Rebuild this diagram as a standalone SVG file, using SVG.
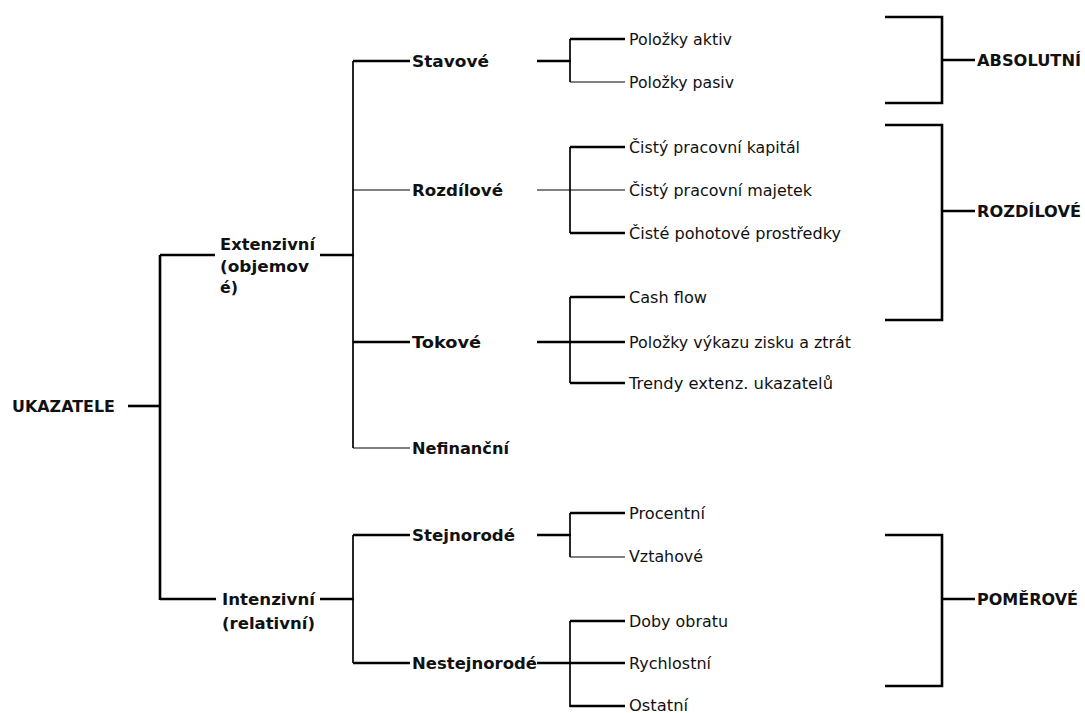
<svg xmlns="http://www.w3.org/2000/svg" width="1085" height="713" viewBox="0 0 1085 713">
  <style>
    text { font-family: "DejaVu Sans", Verdana, sans-serif; fill: #111; }
    .b { font-size: 15.5px; font-weight: bold; }
    .r { font-size: 15.5px; }
    .thick { stroke: #000; stroke-width: 2.6; fill: none; }
    .mid { stroke: #000; stroke-width: 1.7; fill: none; }
    .thin { stroke: #000; stroke-width: 1.2; fill: none; }
  </style>
  <rect width="1085" height="713" fill="#fff"/>

  <g id="connectors">
    <!-- root -->
    <line class="thick" x1="128" y1="406" x2="160" y2="406"/>
    <line class="thick" x1="160" y1="255" x2="160" y2="600"/>
    <line class="thick" x1="160" y1="255" x2="215" y2="255"/>
    <line class="thick" x1="160" y1="599" x2="216" y2="599"/>

    <!-- extensive branch -->
    <line class="thick" x1="320" y1="255" x2="354" y2="255"/>
    <line class="mid" x1="353" y1="61" x2="353" y2="448"/>
    <line class="thick" x1="353" y1="61" x2="410" y2="61"/>
    <line class="thin" x1="353" y1="190" x2="410" y2="190"/>
    <line class="thick" x1="353" y1="342" x2="410" y2="342"/>
    <line class="thin" x1="353" y1="448" x2="410" y2="448"/>

    <!-- Stavové -->
    <line class="thick" x1="537" y1="61" x2="571" y2="61"/>
    <line class="mid" x1="570" y1="39" x2="570" y2="82"/>
    <line class="thick" x1="570" y1="39" x2="625" y2="39"/>
    <line class="thin" x1="570" y1="82" x2="625" y2="82"/>

    <!-- Rozdílové -->
    <line class="thin" x1="537" y1="190" x2="625" y2="190"/>
    <line class="mid" x1="570" y1="147" x2="570" y2="233"/>
    <line class="thick" x1="570" y1="147" x2="625" y2="147"/>
    <line class="thick" x1="570" y1="233" x2="625" y2="233"/>

    <!-- Tokové -->
    <line class="thick" x1="537" y1="342" x2="625" y2="342"/>
    <line class="mid" x1="570" y1="297" x2="570" y2="383"/>
    <line class="thick" x1="570" y1="297" x2="625" y2="297"/>
    <line class="thick" x1="570" y1="383" x2="625" y2="383"/>

    <!-- intensive branch -->
    <line class="thick" x1="320" y1="599" x2="354" y2="599"/>
    <line class="mid" x1="353" y1="535" x2="353" y2="663"/>
    <line class="thick" x1="353" y1="535" x2="410" y2="535"/>
    <line class="thick" x1="353" y1="663" x2="410" y2="663"/>

    <!-- Stejnorodé -->
    <line class="thick" x1="537" y1="535" x2="571" y2="535"/>
    <line class="mid" x1="570" y1="513" x2="570" y2="557"/>
    <line class="thick" x1="570" y1="513" x2="625" y2="513"/>
    <line class="thin" x1="570" y1="557" x2="625" y2="557"/>

    <!-- Nestejnorodé -->
    <line class="thick" x1="537" y1="663" x2="625" y2="663"/>
    <line class="mid" x1="570" y1="621" x2="570" y2="707"/>
    <line class="thick" x1="570" y1="621" x2="625" y2="621"/>
    <line class="thick" x1="570" y1="706" x2="625" y2="706"/>

    <!-- grouping brackets -->
    <polyline class="thick" points="885,17 942,17 942,103 885,103"/>
    <line class="thick" x1="942" y1="60" x2="975" y2="60"/>
    <polyline class="thick" points="885,125 942,125 942,320 885,320"/>
    <line class="thick" x1="942" y1="211" x2="975" y2="211"/>
    <polyline class="thick" points="885,535 942,535 942,686 885,686"/>
    <line class="thick" x1="942" y1="599" x2="975" y2="599"/>
  </g>

  <g id="n-ukazatele"><text class="b" x="12" y="412" textLength="103" lengthAdjust="spacingAndGlyphs">UKAZATELE</text></g>
  <g id="n-extenzivni">
    <text class="b" x="220" y="250" textLength="95" lengthAdjust="spacingAndGlyphs">Extenzivní</text>
    <text class="b" x="220" y="272" textLength="89" lengthAdjust="spacingAndGlyphs">(objemov</text>
    <text class="b" x="220" y="293" textLength="18" lengthAdjust="spacingAndGlyphs">é)</text>
  </g>
  <g id="n-intenzivni">
    <text class="b" x="222" y="605" textLength="93" lengthAdjust="spacingAndGlyphs">Intenzivní</text>
    <text class="b" x="222" y="629" textLength="93" lengthAdjust="spacingAndGlyphs">(relativní)</text>
  </g>

  <g id="n-stavove"><text class="b" x="412" y="67" textLength="77" lengthAdjust="spacingAndGlyphs">Stavové</text></g>
  <g id="n-rozdilove"><text class="b" x="412" y="196" textLength="91" lengthAdjust="spacingAndGlyphs">Rozdílové</text></g>
  <g id="n-tokove"><text class="b" x="412" y="348" textLength="69" lengthAdjust="spacingAndGlyphs">Tokové</text></g>
  <g id="n-nefinancni"><text class="b" x="412" y="454" textLength="97" lengthAdjust="spacingAndGlyphs">Nefinanční</text></g>
  <g id="n-stejnorode"><text class="b" x="412" y="541" textLength="103" lengthAdjust="spacingAndGlyphs">Stejnorodé</text></g>
  <g id="n-nestejnorode"><text class="b" x="412" y="669" textLength="125" lengthAdjust="spacingAndGlyphs">Nestejnorodé</text></g>

  <g id="n-aktiv"><text class="r" x="629" y="45" textLength="103" lengthAdjust="spacingAndGlyphs">Položky aktiv</text></g>
  <g id="n-pasiv"><text class="r" x="629" y="88" textLength="105" lengthAdjust="spacingAndGlyphs">Položky pasiv</text></g>
  <g id="n-cpk"><text class="r" x="629" y="153" textLength="171" lengthAdjust="spacingAndGlyphs">Čistý pracovní kapitál</text></g>
  <g id="n-cpm"><text class="r" x="629" y="196" textLength="183" lengthAdjust="spacingAndGlyphs">Čistý pracovní majetek</text></g>
  <g id="n-cpp"><text class="r" x="629" y="239" textLength="212" lengthAdjust="spacingAndGlyphs">Čisté pohotové prostředky</text></g>
  <g id="n-cashflow"><text class="r" x="629" y="303" textLength="78" lengthAdjust="spacingAndGlyphs">Cash flow</text></g>
  <g id="n-vzz"><text class="r" x="629" y="348" textLength="222" lengthAdjust="spacingAndGlyphs">Položky výkazu zisku a ztrát</text></g>
  <g id="n-trendy"><text class="r" x="629" y="389" textLength="204" lengthAdjust="spacingAndGlyphs">Trendy extenz. ukazatelů</text></g>
  <g id="n-procentni"><text class="r" x="629" y="519" textLength="76" lengthAdjust="spacingAndGlyphs">Procentní</text></g>
  <g id="n-vztahove"><text class="r" x="629" y="562" textLength="74" lengthAdjust="spacingAndGlyphs">Vztahové</text></g>
  <g id="n-doby"><text class="r" x="629" y="627" textLength="99" lengthAdjust="spacingAndGlyphs">Doby obratu</text></g>
  <g id="n-rychlostni"><text class="r" x="629" y="669" textLength="82" lengthAdjust="spacingAndGlyphs">Rychlostní</text></g>
  <g id="n-ostatni"><text class="r" x="629" y="711" textLength="59" lengthAdjust="spacingAndGlyphs">Ostatní</text></g>

  <g id="n-absolutni"><text class="b" x="977" y="66" textLength="104" lengthAdjust="spacingAndGlyphs">ABSOLUTNÍ</text></g>
  <g id="n-rozdilove-grp"><text class="b" x="977" y="217" textLength="104" lengthAdjust="spacingAndGlyphs">ROZDÍLOVÉ</text></g>
  <g id="n-pomerove"><text class="b" x="977" y="605" textLength="101" lengthAdjust="spacingAndGlyphs">POMĚROVÉ</text></g>
</svg>
